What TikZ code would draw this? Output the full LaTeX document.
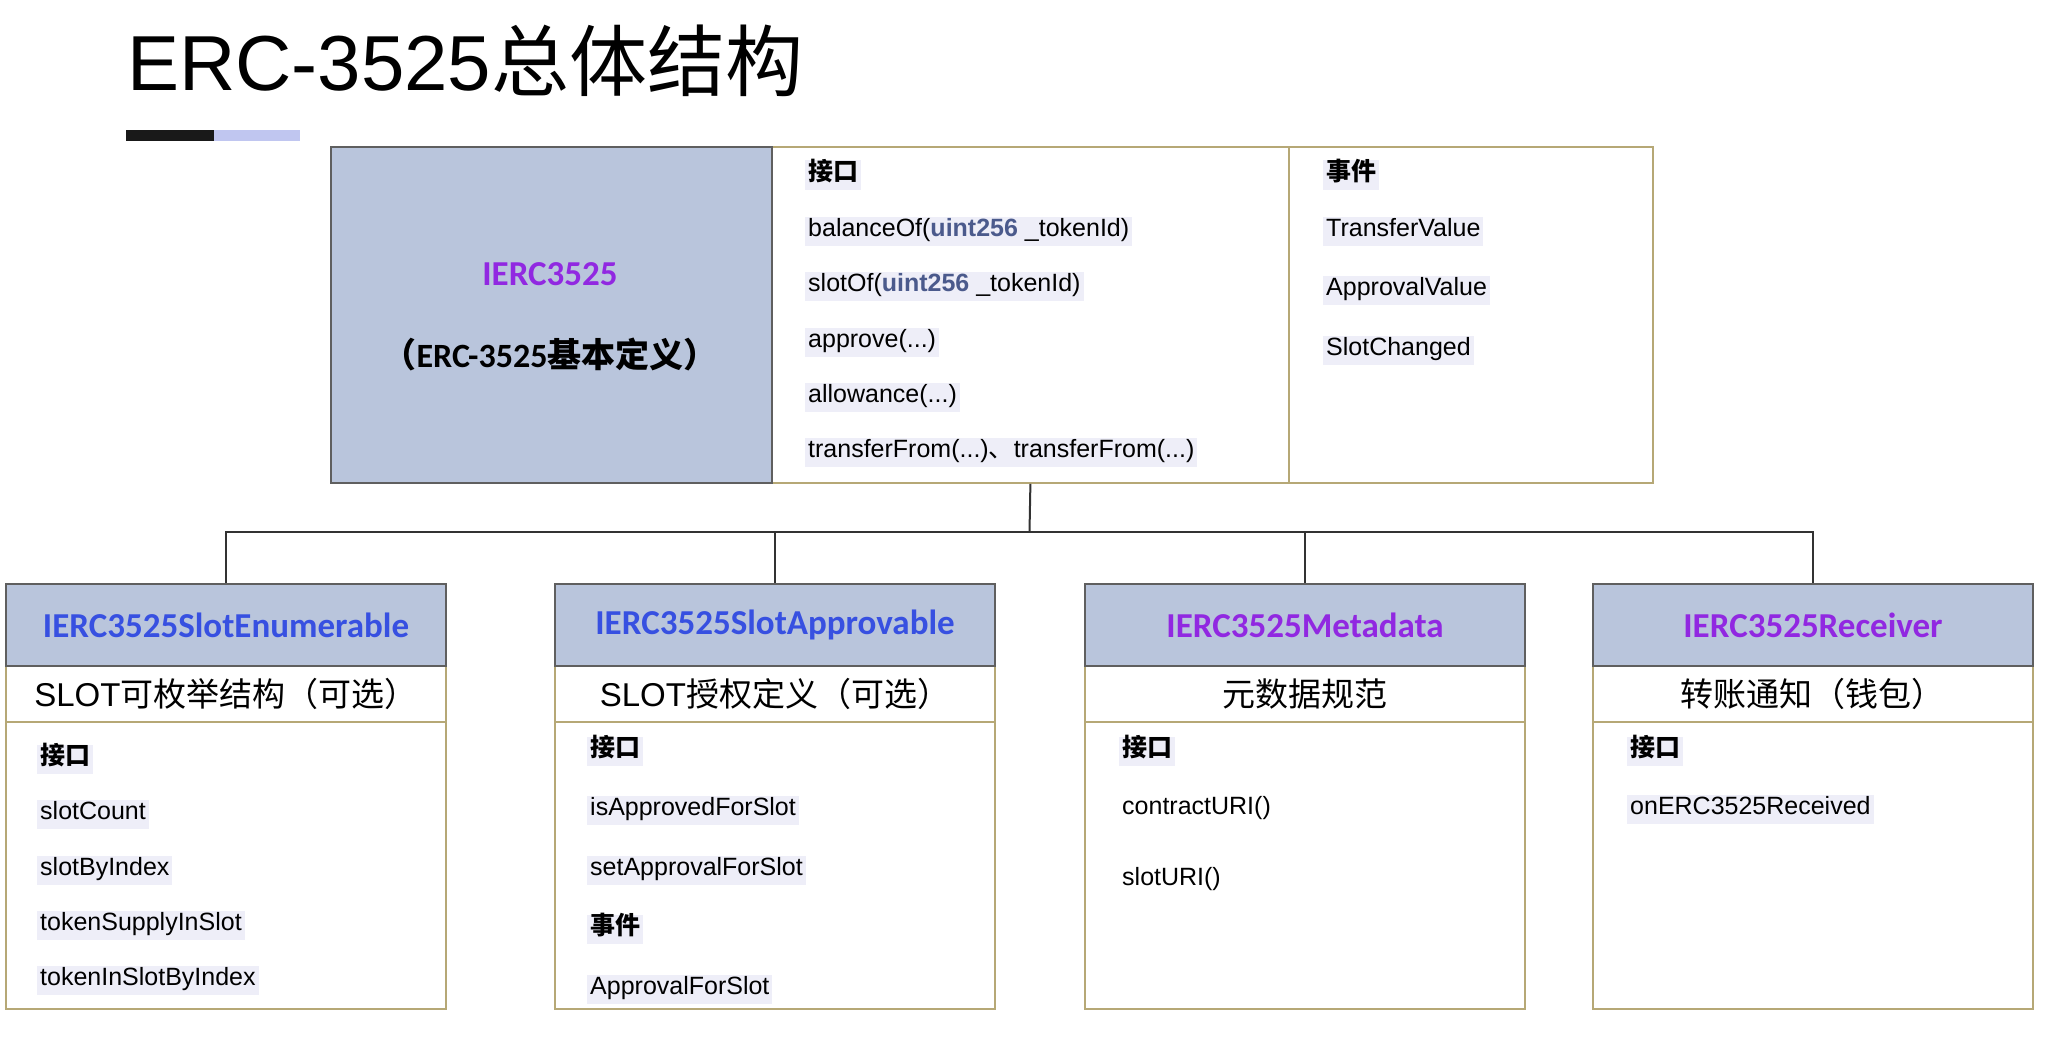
\documentclass[tikz,border=0pt]{standalone}
\usepackage{fontspec}
\setmainfont{Liberation Sans}
\newfontfamily\cjk{Noto Sans CJK SC}
\newfontfamily\hdfont{Carlito}
\definecolor{hdr}{RGB}{185,197,220}
\definecolor{gborder}{RGB}{95,95,95}
\definecolor{tborder}{RGB}{182,168,118}
\definecolor{tblue}{RGB}{55,80,225}
\definecolor{tpurple}{RGB}{145,40,225}
\definecolor{uintc}{RGB}{75,90,140}
\definecolor{hl}{RGB}{238,238,248}
\definecolor{lineclr}{RGB}{50,50,50}
\definecolor{barlav}{RGB}{192,198,240}
\definecolor{barblk}{RGB}{25,25,25}
\begin{document}
\begin{tikzpicture}[x=1pt,y=-1pt,
  hdrbox/.style={draw=gborder, fill=hdr, line width=2pt, anchor=north west, inner sep=0pt},
  tanbox/.style={draw=tborder, fill=white, line width=1.8pt, anchor=north west, inner sep=0pt},
  item/.style={anchor=west, yshift=-4pt, fill=hl, inner sep=3pt, text height=17pt, text depth=6pt, font=\fontsize{25}{30}\selectfont},
  head/.style={anchor=west, yshift=-4pt, fill=hl, inner sep=3pt, text height=17pt, text depth=6pt, font=\cjk\bfseries\fontsize{25}{30}\selectfont},
  htitle/.style={font=\hdfont\bfseries\fontsize{35}{40}\selectfont},
  subt/.style={font=\fontsize{33}{38}\selectfont},
  conn/.style={draw=lineclr, line width=2pt}]
\fill[white] (0,0) rectangle (2048,1038);
\useasboundingbox (0,0) rectangle (2048,1038);

% title
\node[anchor=base west, inner sep=0pt, font=\fontsize{78}{80}\selectfont] (title) at (127,91) {ERC-3525{\cjk 总体结构}};
\fill[barblk] (126,130) rectangle (214,141);
\fill[barlav] (214,130) rectangle (300,141);

% top box
\node[tanbox, minimum width=517, minimum height=336] (tm) at (771,146) {};
\node[tanbox, minimum width=364, minimum height=336] (tr) at (1288,146) {};
\node[hdrbox, minimum width=441, minimum height=336] (tl) at (330,146) {};
\node[font=\hdfont\bfseries\fontsize{35}{40}\selectfont, text=tpurple] (tlname) at (550,274) {IERC3525};
\node[font=\bfseries\fontsize{34}{40}\selectfont] (tldesc) at (550,354) {{\cjk\bfseries （}{\hdfont\bfseries ERC-3525}{\cjk\bfseries 基本定义）}};

\node[head] (tmh) at (805,171) {接口};
\node[item] (tm1) at (805,227) {balanceOf({\bfseries\color{uintc}uint256} \_tokenId)};
\node[item] (tm2) at (805,282) {slotOf({\bfseries\color{uintc}uint256} \_tokenId)};
\node[item] (tm3) at (805,338) {approve(...)};
\node[item] (tm4) at (805,393) {allowance(...)};
\node[item] (tm5) at (805,448) {transferFrom(...){\cjk 、}transferFrom(...)};

\node[head] (trh) at (1323,171) {事件};
\node[item] (tr1) at (1323,227) {TransferValue};
\node[item] (tr2) at (1323,286) {ApprovalValue};
\node[item] (tr3) at (1323,346) {SlotChanged};

% bottom boxes: bodies, subtitle bands, headers
\node[tanbox, minimum width=440, minimum height=343] (bd1) at (5,665) {};
\node[tanbox, minimum width=440, minimum height=343] (bd2) at (554,665) {};
\node[tanbox, minimum width=440, minimum height=343] (bd3) at (1084,665) {};
\node[tanbox, minimum width=440, minimum height=343] (bd4) at (1592,665) {};
\node[tanbox, minimum width=440, minimum height=56] (sb1) at (5,665) {};
\node[tanbox, minimum width=440, minimum height=56] (sb2) at (554,665) {};
\node[tanbox, minimum width=440, minimum height=56] (sb3) at (1084,665) {};
\node[tanbox, minimum width=440, minimum height=56] (sb4) at (1592,665) {};
\node[hdrbox, minimum width=440, minimum height=82] (h1) at (5,583) {};
\node[hdrbox, minimum width=440, minimum height=82] (h2) at (554,583) {};
\node[hdrbox, minimum width=440, minimum height=82] (h3) at (1084,583) {};
\node[hdrbox, minimum width=440, minimum height=82] (h4) at (1592,583) {};

\node[htitle, text=tblue] (h1t) at (h1.center) {IERC3525SlotEnumerable};
\node[htitle, text=tblue] (h2t) at (h2.center) {IERC3525SlotApprovable};
\node[htitle, text=tpurple] (h3t) at (h3.center) {IERC3525Metadata};
\node[htitle, text=tpurple] (h4t) at (h4.center) {IERC3525Receiver};

\node[subt] (s1t) at (sb1.center) {SLOT{\cjk 可枚举结构（可选）}};
\node[subt] (s2t) at (sb2.center) {SLOT{\cjk 授权定义（可选）}};
\node[subt] (s3t) at (sb3.center) {{\cjk 元数据规范}};
\node[subt] (s4t) at (sb4.center) {{\cjk 转账通知（钱包）}};

% box 1 items
\node[head] (b1h) at (37,755) {接口};
\node[item] (b1a) at (37,810) {slotCount};
\node[item] (b1b) at (37,866) {slotByIndex};
\node[item] (b1c) at (37,921) {tokenSupplyInSlot};
\node[item] (b1d) at (37,976) {tokenInSlotByIndex};

% box 2 items
\node[head] (b2h) at (587,747) {接口};
\node[item] (b2a) at (587,806) {isApprovedForSlot};
\node[item] (b2b) at (587,866) {setApprovalForSlot};
\node[head] (b2e) at (587,925) {事件};
\node[item] (b2c) at (587,985) {ApprovalForSlot};

% box 3 items
\node[head] (b3h) at (1119,747) {接口};
\node[item, fill=none] (b3a) at (1119,805) {contractURI()};
\node[item, fill=none] (b3b) at (1119,876) {slotURI()};

% box 4 items
\node[head] (b4h) at (1627,747) {接口};
\node[item] (b4a) at (1627,805) {onERC3525Received};

% connectors
\coordinate (bus) at (1029.5,532);
\draw[conn] (tm.south) -- (bus);
\draw[conn] (bus) -| (h1.north);
\draw[conn] (bus) -| (h2.north);
\draw[conn] (bus) -| (h3.north);
\draw[conn] (bus) -| (h4.north);
\end{tikzpicture}
\end{document}
